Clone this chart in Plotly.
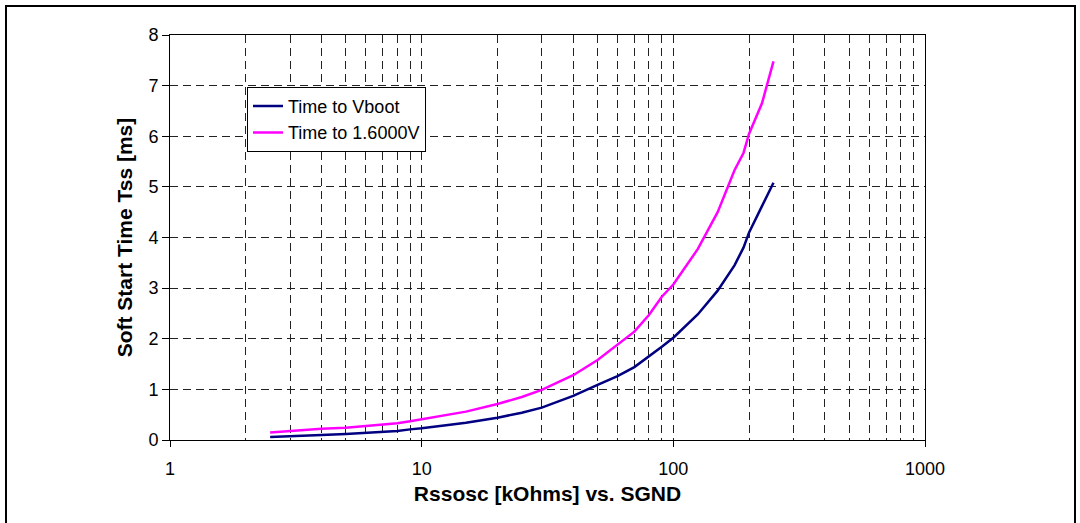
import plotly.graph_objects as go

# Data
r_kohm = [2.5, 3, 4, 5, 6, 7, 8, 9, 10, 12.5, 15, 20, 25, 30, 40, 50, 60, 70, 80, 90,
          100, 125, 150, 175, 190, 200, 225, 250]
t_vboot = [0.06, 0.08, 0.10, 0.12, 0.14, 0.16, 0.18, 0.21, 0.23, 0.29, 0.34, 0.44, 0.54,
           0.64, 0.87, 1.09, 1.26, 1.44, 1.65, 1.84, 2.02, 2.48, 2.95, 3.45, 3.80, 4.10,
           4.62, 5.08]
t_1v6 = [0.15, 0.18, 0.22, 0.24, 0.27, 0.30, 0.33, 0.37, 0.41, 0.49, 0.56, 0.71, 0.85,
         0.99, 1.28, 1.58, 1.88, 2.14, 2.47, 2.83, 3.07, 3.77, 4.50, 5.33, 5.67, 6.05,
         6.65, 7.48]

x_tickvals = [1, 10, 100, 1000]
x_ticktext = ["1", "10", "100", "1000"]
y_tickvals = [0, 1, 2, 3, 4, 5, 6, 7, 8]

FONT = "Liberation Sans, Arial, sans-serif"

fig = go.Figure()
fig.add_trace(go.Scatter(x=r_kohm, y=t_vboot, mode="lines", name="Time to Vboot",
                         line=dict(color="#000080", width=2.5)))
fig.add_trace(go.Scatter(x=r_kohm, y=t_1v6, mode="lines", name="Time to 1.6000V",
                         line=dict(color="#FF00FF", width=2.5)))

grid = dict(gridcolor="#222222", gridwidth=1, griddash="8px,5px")

fig.update_layout(
    width=1080, height=523,
    margin=dict(l=170, r=155, t=35, b=83),
    paper_bgcolor="white", plot_bgcolor="white",
    font=dict(family=FONT, size=18, color="black"),
    showlegend=True,
    legend=dict(x=0.102, y=0.872, xanchor="left", yanchor="top",
                bgcolor="white", bordercolor="black", borderwidth=1,
                font=dict(family=FONT, size=18, color="black"),
                tracegroupgap=0, itemwidth=30),
    xaxis=dict(type="log", range=[0, 3], tickvals=x_tickvals, ticktext=x_ticktext,
               showgrid=True, **grid,
               minor=dict(dtick="D1", showgrid=True, ticks="", **grid),
               showline=True, linecolor="black", linewidth=1, mirror=True,
               ticks="outside", ticklen=6, tickcolor="black",
               ticklabelstandoff=6,
               tickfont=dict(family=FONT, size=18),
               title=dict(text="<b>Rssosc [kOhms] vs. SGND</b>", standoff=8,
                          font=dict(family=FONT, size=21)),
               zeroline=False),
    yaxis=dict(range=[0, 8], tickvals=y_tickvals, showgrid=True, **grid,
               showline=True, linecolor="black", linewidth=1, mirror=True,
               ticks="outside", ticklen=7, tickcolor="black",
               tickfont=dict(family=FONT, size=18),
               title=dict(text="<b>Soft Start Time Tss [ms]</b>", standoff=10,
                          font=dict(family=FONT, size=21)),
               zeroline=False),
    shapes=[dict(type="rect", xref="paper", yref="paper",
                 x0=(6 - 170) / 755, x1=(1075 - 170) / 755,
                 y0=(440 - 530) / 405, y1=(440 - 6) / 405,
                 line=dict(color="black", width=2), fillcolor="rgba(0,0,0,0)",
                 layer="below")],
)

fig.write_html("out.html", config={"displayModeBar": False},
               post_script="document.body.style.margin='0';document.body.style.overflow='hidden';")
